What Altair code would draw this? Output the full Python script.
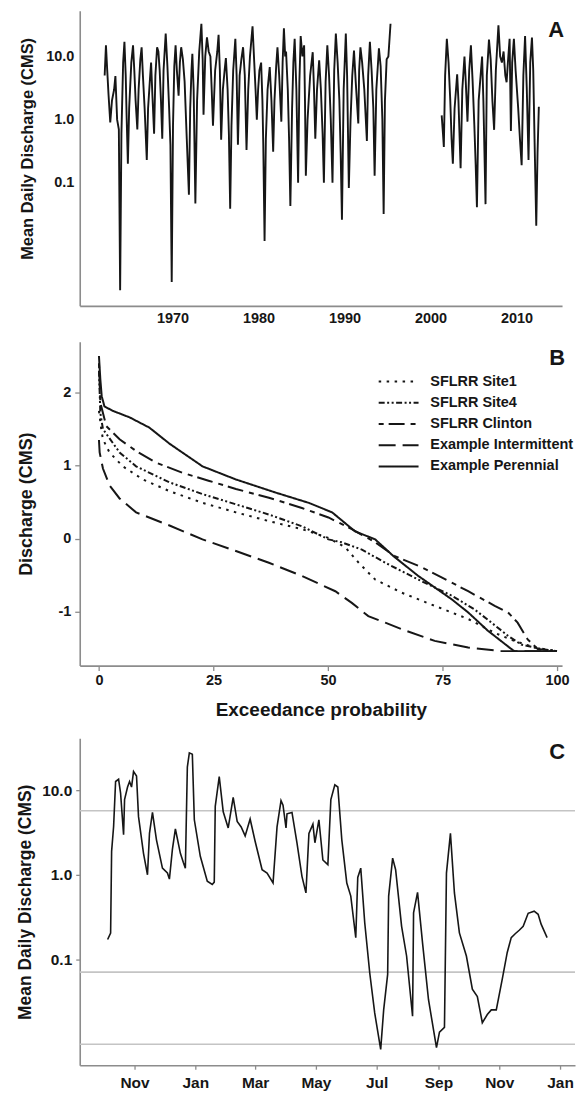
import altair as alt
import pandas as pd

FONT = "Liberation Sans"
INK = "#161616"
AXIS = "#8c8c8c"

# ---------------- Panel A: mean daily discharge record (two segments) ----------------
a1_year = [1962.10, 1962.25, 1962.40, 1962.55, 1962.75, 1962.95, 1963.20, 1963.35, 1963.55, 1963.75,
           1963.90, 1964.05, 1964.25, 1964.40, 1964.55, 1964.65, 1964.80, 1964.95, 1965.20, 1965.40,
           1965.55, 1965.70, 1965.90, 1966.05, 1966.25, 1966.40, 1966.55, 1966.75, 1967.00, 1967.15,
           1967.35, 1967.50, 1967.65, 1967.85, 1968.00, 1968.20, 1968.35, 1968.50, 1968.65, 1968.80,
           1968.95, 1969.20, 1969.40, 1969.60, 1969.75, 1969.90, 1970.05, 1970.20, 1970.35, 1970.50,
           1970.70, 1970.85, 1971.00, 1971.20, 1971.40, 1971.65, 1971.90, 1972.05, 1972.20, 1972.30,
           1972.45, 1972.65, 1972.85, 1973.10, 1973.35, 1973.50, 1973.60, 1973.80, 1974.00, 1974.20,
           1974.40, 1974.55, 1974.70, 1974.95, 1975.20, 1975.35, 1975.50, 1975.65, 1975.85, 1976.05,
           1976.20, 1976.40, 1976.55, 1976.70, 1976.85, 1977.05, 1977.30, 1977.45, 1977.60, 1977.80,
           1978.00, 1978.20, 1978.40, 1978.60, 1978.80, 1979.00, 1979.30, 1979.50, 1979.65, 1979.80,
           1979.95, 1980.10, 1980.30, 1980.45, 1980.55, 1980.70, 1980.85, 1981.05, 1981.30, 1981.50,
           1981.70, 1981.85, 1982.05, 1982.20, 1982.40, 1982.65, 1982.80, 1982.95, 1983.10, 1983.20,
           1983.40, 1983.55, 1983.70, 1983.90, 1984.05, 1984.20, 1984.40, 1984.60, 1984.75, 1984.90,
           1985.10, 1985.30, 1985.40, 1985.50, 1985.70, 1986.00, 1986.30, 1986.45, 1986.60, 1986.80,
           1987.05, 1987.25, 1987.45, 1987.60, 1987.80, 1988.00, 1988.20, 1988.40, 1988.60, 1988.80,
           1988.99, 1989.20, 1989.40, 1989.55, 1989.70, 1989.90, 1990.15, 1990.30, 1990.50, 1990.70,
           1990.90, 1991.10, 1991.30, 1991.60, 1991.70, 1991.85, 1992.05, 1992.30, 1992.60, 1992.75,
           1992.95, 1993.15, 1993.35, 1993.50, 1993.70, 1994.00, 1994.20, 1994.40, 1994.55, 1994.70,
           1994.90, 1995.10, 1995.35]
a1_q = [5.0, 15, 6, 2.5, 0.9, 2.0, 3.0, 4.9, 1.0, 0.7,
        0.002, 0.6, 8, 17, 5, 1.2, 0.2, 1.5, 8, 15,
        6, 2, 0.7, 3, 9, 14, 5, 1.5, 0.23, 1.5,
        4, 8, 2.5, 0.6, 5, 14, 12, 6, 2, 0.5,
        6, 23, 7, 1.5, 0.4, 0.0027, 0.8, 7, 15, 6,
        2.4, 8, 14, 9, 4, 0.5, 0.065, 1.5, 6, 11,
        3, 0.047, 2, 12, 33, 9, 1.2, 10, 20, 12,
        10, 3, 0.8, 6, 12, 22, 6, 0.48, 3, 6,
        9.4, 3, 0.6, 0.039, 0.8, 6, 19, 5, 0.40, 5,
        9, 14, 5, 0.33, 3, 10, 30, 8, 3, 1.0,
        3, 6, 8, 2, 0.4, 0.012, 0.5, 3, 6.8, 2,
        0.31, 2, 7, 14, 5, 0.93, 8, 28, 10, 12,
        3, 0.5, 0.043, 1.5, 8, 19, 3, 0.1, 4, 21,
        10, 15, 2, 0.13, 1, 5, 11.7, 3, 0.5, 3,
        8.7, 3, 0.6, 0.1, 4, 15, 5, 1, 0.1, 6,
        23, 8, 2, 0.3, 0.026, 3, 23, 5, 0.083, 1,
        5, 12.4, 4, 0.87, 6, 14, 8, 3, 0.46, 5,
        17, 6, 1.5, 0.13, 3, 13.5, 7, 1, 0.032, 2,
        9, 10, 33]
a2_year = [2001.30, 2001.45, 2001.55, 2001.70, 2001.90, 2002.10, 2002.30, 2002.45, 2002.60, 2002.80,
           2003.10, 2003.25, 2003.50, 2003.70, 2003.95, 2004.10, 2004.30, 2004.50, 2004.70, 2004.90,
           2005.10, 2005.25, 2005.40, 2005.60, 2006.00, 2006.15, 2006.40, 2006.55, 2006.80, 2007.00,
           2007.20, 2007.40, 2007.60, 2007.90, 2008.10, 2008.30, 2008.50, 2008.70, 2008.85, 2009.00,
           2009.20, 2009.35, 2009.50, 2009.70, 2009.90, 2010.20, 2010.40, 2010.60, 2010.80, 2011.00,
           2011.20, 2011.40, 2011.60, 2011.80, 2011.95, 2012.10, 2012.30, 2012.45, 2012.60]
a2_q = [1.17, 0.6, 0.37, 5, 19, 8, 2, 0.5, 0.2, 1.5,
        5.2, 2, 0.17, 3, 10, 4, 0.93, 6, 15, 4,
        0.8, 0.2, 0.041, 2, 10, 2, 0.046, 5, 18.5, 9,
        2, 0.69, 6, 31, 10, 8, 12, 5, 3.9, 8,
        19, 0.66, 8, 19, 6, 1.5, 0.5, 0.19, 5, 21,
        3, 0.23, 8, 20, 6, 0.5, 0.021, 0.3, 1.6]
a_year_ticks = [1970, 1980, 1990, 2000, 2010]
log_ticks = [0.1, 1, 10]

# ---------------- Panel B: flow duration curves ----------------
b_names = ["SFLRR Site1", "SFLRR Site4", "SFLRR Clinton", "Example Intermittent", "Example Perennial"]
b_site1_p = [0, 0.5, 0.87, 2.3, 5.2, 9.6, 15.4, 22.6, 29.9, 37.1, 44.3, 50.1, 53.8, 56.7, 60.3,
             66.1, 73.3, 80.6, 86.4, 90.7, 95.1, 100]
b_site1_v = [1.75, 1.50, 1.36, 1.18, 0.99, 0.81, 0.65, 0.49, 0.36, 0.24, 0.13, 0.01, -0.12, -0.33,
             -0.56, -0.74, -0.92, -1.10, -1.29, -1.40, -1.49, -1.54]
b_site4_p = [0, 0.3, 0.87, 4.5, 8.1, 15.4, 22.6, 29.9, 37.1, 44.3, 50.1, 53, 57.4, 62.5, 69.7,
             77, 82, 85.7, 89.3, 92.2, 96.5, 100]
b_site4_v = [2.3, 1.72, 1.50, 1.18, 0.99, 0.77, 0.61, 0.47, 0.33, 0.17, -0.01, -0.05, -0.15, -0.33,
             -0.56, -0.78, -0.97, -1.15, -1.33, -1.45, -1.51, -1.54]
b_clinton_p = [0, 0.3, 1.6, 4.5, 8.1, 12.5, 18.3, 24.1, 29.9, 37.1, 44.3, 50.1, 55.2, 60.3, 64.6,
               69.7, 74.8, 80.6, 86.4, 89.3, 91.4, 93.6, 95.8, 100]
b_clinton_v = [2.4, 1.86, 1.54, 1.36, 1.20, 1.04, 0.90, 0.79, 0.68, 0.56, 0.42, 0.29, 0.13, -0.05,
               -0.24, -0.37, -0.53, -0.72, -0.92, -1.01, -1.15, -1.38, -1.51, -1.54]
b_interm_p = [0, 0.15, 0.87, 2.3, 4.5, 8.1, 15.4, 22.6, 29.9, 37.1, 44.3, 51.6, 55.2, 58.8, 62.5,
              66.1, 73.3, 80.6, 87.8, 100]
b_interm_v = [1.35, 1.18, 0.96, 0.73, 0.55, 0.36, 0.18, -0.01, -0.17, -0.33, -0.51, -0.72, -0.88,
              -1.06, -1.15, -1.24, -1.40, -1.49, -1.54, -1.54]
b_perenn_p = [0, 0.3, 0.6, 1.2, 3.0, 6.7, 11, 15.4, 22.6, 29.9, 38.6, 45.8, 50.9, 55.9, 60.3,
              64.3, 69.7, 77, 80.6, 84.9, 90, 90.7, 100]
b_perenn_v = [2.50, 2.18, 1.95, 1.81, 1.75, 1.66, 1.52, 1.30, 0.99, 0.81, 0.63, 0.49, 0.36, 0.10,
              -0.01, -0.24, -0.51, -0.83, -1.01, -1.26, -1.51, -1.54, -1.54]
b_x_ticks = [0, 25, 50, 75, 100]
b_y_ticks = [-1, 0, 1, 2]

# ---------------- Panel C: one-year record (days from 2011-11-01) ----------------
c_start = "2011-11-01"
c_day = [-27, -24, -23, -21, -19, -16, -14, -11, -10, -7,
         -5, -3, -1, 2, 4, 9, 13, 15, 18, 22,
         28, 33, 35, 38, 41, 46, 49, 51, 53, 55,
         58, 60, 66, 73, 78, 80, 81, 85, 89, 94,
         99, 103, 107, 111, 116, 121, 128, 133, 139, 143,
         147, 149, 152, 153, 158, 163, 168, 172, 175, 179,
         181, 185, 189, 194, 197, 201, 204, 208, 213, 217,
         222, 224, 227, 231, 236, 241, 247, 250, 254, 255,
         259, 262, 268, 273, 279, 280, 284, 289, 295, 303,
         306, 311, 313, 317, 321, 326, 333, 339, 344, 349,
         354, 358, 363, 369, 374, 378, 382, 386, 390, 395,
         401, 405, 408, 414]
c_q = [0.171, 0.204, 1.9, 3.75, 12.8, 13.6, 9.3, 3.0, 7.8, 11,
       12.8, 11, 16.8, 14.9, 4.9, 1.8, 1.0, 3.1, 5.5, 2.6,
       1.2, 1.05, 0.89, 2.0, 3.5, 1.8, 1.4, 1.2, 19, 28,
       27, 4.5, 1.66, 0.84, 0.77, 0.82, 6.5, 14.6, 5.6, 3.6,
       8.3, 4.3, 3.7, 2.9, 4.6, 2.5, 1.15, 1.05, 0.8, 3.7,
       7.6, 6.7, 3.6, 5.3, 5.5, 2.4, 0.96, 0.61, 3.1, 4.0,
       2.4, 4.5, 1.5, 1.32, 7.8, 11.7, 11, 2.6, 0.8, 0.56,
       0.18, 0.93, 1.2, 0.27, 0.069, 0.023, 0.0085, 0.025, 0.066, 0.56,
       1.58, 1.15, 0.245, 0.109, 0.021, 0.355, 0.62, 0.156, 0.033, 0.0089,
       0.0136, 0.0155, 1.05, 3.1, 0.61, 0.205, 0.109, 0.044, 0.036, 0.0176,
       0.022, 0.025, 0.025, 0.058, 0.12, 0.18, 0.2, 0.22, 0.245, 0.35,
       0.37, 0.34, 0.26, 0.18]
c_thresholds = [5.75, 0.0702, 0.0098]
c_month_ticks = [(2011, 11), (2012, 1), (2012, 3), (2012, 5), (2012, 7), (2012, 9), (2012, 11), (2013, 1)]

# ---------------- tables ----------------
dfA = pd.DataFrame({
    "year": a1_year + a2_year,
    "q": a1_q + a2_q,
    "seg": ["1"] * len(a1_year) + ["2"] * len(a2_year),
})

b_p = [b_site1_p, b_site4_p, b_clinton_p, b_interm_p, b_perenn_p]
b_v = [b_site1_v, b_site4_v, b_clinton_v, b_interm_v, b_perenn_v]
rows = []
for name, ps, vs in zip(b_names, b_p, b_v):
    for i, (p, v) in enumerate(zip(ps, vs)):
        rows.append({"series": name, "p": p, "v": v, "i": i})
dfB = pd.DataFrame(rows)

dfC = pd.DataFrame({
    "date": pd.Timestamp(c_start) + pd.to_timedelta(c_day, unit="D"),
    "q": c_q,
})
dfT = pd.DataFrame({"thr": c_thresholds})

W_A, H_A = 484, 296
W_B, H_B = 484, 325
W_C, H_C = 497, 328
B_OFFSET = 332  # vertical offset of panel B plot from panel A plot (legend lives at root)


def letter(ch, x, y):
    return alt.Chart(pd.DataFrame({"t": [ch]})).mark_text(
        font=FONT, fontWeight="bold", fontSize=22, color=INK, align="center", baseline="alphabetic"
    ).encode(text="t:N", x=alt.value(x), y=alt.value(y))


# ---------------- Panel A chart ----------------
lineA = alt.Chart(dfA).mark_line(color=INK, strokeWidth=1.9).encode(
    x=alt.X("year:Q",
            scale=alt.Scale(domain=[1959.2, 2015.3], nice=False, zero=False),
            axis=alt.Axis(values=a_year_ticks, format="d", title=None, ticks=False,
                          labelPadding=6, labelFontSize=14.5)),
    y=alt.Y("q:Q",
            scale=alt.Scale(type="log", domain=[0.00113, 52.7], nice=False),
            axis=alt.Axis(values=log_ticks, format=".1f", title="Mean Daily Discharge (CMS)",
                          ticks=False, labelPadding=6, labelFontSize=14.5,
                          titleFontSize=16.5, titlePadding=10, titleY=138)),
    detail="seg:N",
)
chartA = alt.layer(lineA, letter("A", 478, 26)).properties(width=W_A, height=H_A)

# ---------------- Panel B chart ----------------
dash_range = [[2.5, 5.5], [6, 2.5, 2, 2.5, 2, 2.5], [5, 5, 16, 6], [17, 7], [1, 0]]
lineB = alt.Chart(dfB).mark_line(color=INK, strokeWidth=2).encode(
    x=alt.X("p:Q",
            scale=alt.Scale(domain=[-4.2, 101.1], nice=False, zero=False),
            axis=alt.Axis(values=b_x_ticks, title="Exceedance probability", tickSize=5,
                          labelPadding=3, labelFontSize=14.5, titleFontSize=19, titlePadding=14)),
    y=alt.Y("v:Q",
            scale=alt.Scale(domain=[-1.738, 2.696], nice=False, zero=False),
            axis=alt.Axis(values=b_y_ticks, title="Discharge (CMS)", tickSize=5, labelPadding=4,
                          labelExpr="'' + datum.value",
                          labelFontSize=14.5, titleFontSize=18, titlePadding=22)),
    strokeDash=alt.StrokeDash("series:N",
                              scale=alt.Scale(domain=b_names, range=dash_range),
                              legend=alt.Legend(title=None, orient="none",
                                                legendX=312.75, legendY=32.75 + B_OFFSET,
                                                symbolType="M-8,0H8", symbolSize=25,
                                                symbolStrokeWidth=2, symbolStrokeColor=INK,
                                                symbolFillColor="transparent",
                                                labelFont=FONT, labelFontSize=14.5,
                                                labelFontWeight="bold", labelColor=INK,
                                                labelOffset=24.5, rowPadding=6.3, padding=0,
                                                labelLimit=300)),
    order="i:Q",
)
chartB = alt.layer(lineB, letter("B", 479, 23)).properties(width=W_B, height=H_B)

# ---------------- Panel C chart ----------------
c_scale_x = alt.Scale(domain=[alt.DateTime(year=2011, month=9, date=7),
                              alt.DateTime(year=2013, month=1, date=16)], nice=False)
c_scale_y = alt.Scale(type="log", domain=[0.00552, 41.6], nice=False)
rulesC = alt.Chart(dfT).mark_rule(color="#c4c4c4", strokeWidth=1.6).encode(
    y=alt.Y("thr:Q", scale=c_scale_y)
)
lineC = alt.Chart(dfC).mark_line(color=INK, strokeWidth=1.6).encode(
    x=alt.X("date:T", scale=c_scale_x,
            axis=alt.Axis(values=[alt.DateTime(year=y, month=m, date=1) for y, m in c_month_ticks],
                          format="%b", title=None, tickSize=4, labelPadding=6,
                          labelFontSize=15.5)),
    y=alt.Y("q:Q", scale=c_scale_y,
            axis=alt.Axis(values=log_ticks, format=".1f", title="Mean Daily Discharge (CMS)",
                          tickSize=4, labelPadding=4, labelFontSize=15.5,
                          titleFontSize=17.5, titlePadding=7)),
)
chartC = alt.layer(rulesC, lineC, letter("C", 479, 21)).properties(width=W_C, height=H_C)

inner = alt.vconcat(chartB, chartC, spacing=18)
chart = alt.vconcat(chartA, inner, spacing=16).properties(
    padding={"left": 16, "top": 9, "right": 0, "bottom": 2},
    background="white",
).configure_view(stroke=None).configure_axis(
    grid=False,
    domainColor=AXIS, domainWidth=1.6,
    tickColor=AXIS, tickWidth=1.3,
    labelFont=FONT, titleFont=FONT,
    labelFontWeight="bold", titleFontWeight="bold",
    labelColor=INK, titleColor=INK,
)

chart.save("out.html", embed_options={"renderer": "svg", "actions": False})
